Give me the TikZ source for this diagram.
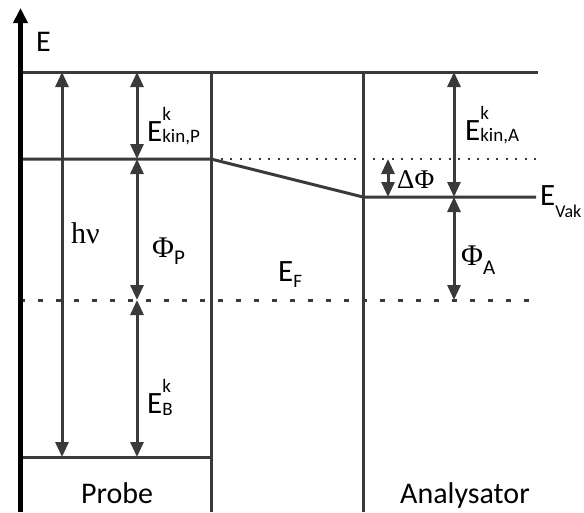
\documentclass[tikz,border=0pt]{standalone}
\usepackage{fontspec}
\setmainfont{Carlito}
\newfontfamily\grk{Liberation Serif}
\usetikzlibrary{arrows.meta}
\definecolor{linegrey}{HTML}{3A3A3A}
\newcommand\subf{\fontsize{19}{19}\selectfont}
\newcommand\subg{\fontsize{21}{21}\selectfont}
\newcommand\subv{\fontsize{18}{18}\selectfont}
\begin{document}
\begin{tikzpicture}[x=1pt,y=-1pt,
  lvl/.style={line width=3pt, draw=linegrey},
  dimarrow/.style={line width=3pt, draw=linegrey,
    {Triangle[length=15pt,width=13pt]}-{Triangle[length=15pt,width=13pt]}},
  lbl/.style={inner sep=0pt, font=\fontsize{31}{31}\selectfont, anchor=base west},
  grklbl/.style={inner sep=0pt, font=\grk\fontsize{30}{30}\selectfont, anchor=base west},
  bottomlbl/.style={inner sep=0pt, font=\fontsize{30}{30}\selectfont, anchor=base}
]
\useasboundingbox (0,0) rectangle (584,512);

% coordinates
\coordinate (axb) at (20.5,512);
\coordinate (axt) at (20.5,8);
\coordinate (tl) at (20,72);
\coordinate (tr) at (538,72);
\coordinate (pl) at (20,159);
\coordinate (pr) at (211,159);
\coordinate (vk) at (363,197);
\coordinate (vkr) at (536,197);
\coordinate (dotr) at (538,159);
\coordinate (fl) at (20,300);
\coordinate (fr) at (537,300);
\coordinate (bl) at (20,457);
\coordinate (br) at (211,457);
\coordinate (v1t) at (211,72);
\coordinate (v1b) at (211,512);
\coordinate (v2t) at (363,72);
\coordinate (v2b) at (363,512);
% arrow ends
\coordinate (h1) at (62,72);
\coordinate (h2) at (62,457);
\coordinate (p1) at (137,72);
\coordinate (p2) at (137,159);
\coordinate (p3) at (137,300);
\coordinate (p4) at (137,457);
\coordinate (a1) at (454,72);
\coordinate (a2) at (454,197);
\coordinate (a3) at (454,300);
\coordinate (d1) at (388,159);
\coordinate (d2) at (388,197);

% levels
\draw[lvl] (tl) -- (tr);
\draw[lvl, line join=round] (pl) -- (pr) -- (vk) -- (vkr);
\draw[linegrey, line width=2pt, dash pattern=on 2pt off 7.5pt] (pr) -- (dotr);
\draw[linegrey, line width=3pt, dash pattern=on 5pt off 13pt] (fl) -- (fr);
\draw[lvl] (bl) -- (br);
\draw[lvl] (v1t) -- (v1b);
\draw[lvl] (v2t) -- (v2b);

% axis
\draw[black, line width=4.5pt, -{Triangle[length=15pt,width=14pt]}] (axb) -- (axt);

% dimension arrows
\draw[dimarrow] (h1) -- (h2);
\draw[dimarrow] (p1) -- (p2);
\draw[dimarrow] (p2) -- (p3);
\draw[dimarrow] (p3) -- (p4);
\draw[dimarrow] (a1) -- (a2);
\draw[dimarrow] (a2) -- (a3);
\draw[dimarrow] (d1) -- (d2);

% labels
\node[lbl, font=\fontsize{30}{30}\selectfont] (E) at (36,51) {E};
\node[lbl] (ekinp) at (147,141) {E\rlap{\raisebox{21pt}{\subf k}}\raisebox{-1pt}{\subf kin,P}};
\node[lbl] (ekina) at (465,140) {E\rlap{\raisebox{21pt}{\subf k}}\raisebox{-1pt}{\subf kin,A}};
\node[lbl] (eb) at (147,413) {E\rlap{\raisebox{21pt}{\subf k}}\raisebox{-2pt}{\subf B}};
\node[lbl] (evak) at (540,205) {E\raisebox{-12pt}{\subv Vak}};
\node[lbl] (ef) at (278,281) {E\raisebox{-6pt}{\subf F}};
\node[grklbl] (phip) at (152,257) {Φ\raisebox{-7pt}{\rmfamily\subg P}};
\node[grklbl] (phia) at (461,265) {Φ\raisebox{-9pt}{\rmfamily\subg A}};
\node[grklbl, font=\grk\fontsize{27}{27}\selectfont] (dphi) at (397,188) {ΔΦ};
\node[grklbl, anchor=base east] (hnu) at (100,243) {hν};
\node[bottomlbl] (probe) at (117,503) {Probe};
\node[bottomlbl] (ana) at (465,503) {Analysator};
\end{tikzpicture}
\end{document}
